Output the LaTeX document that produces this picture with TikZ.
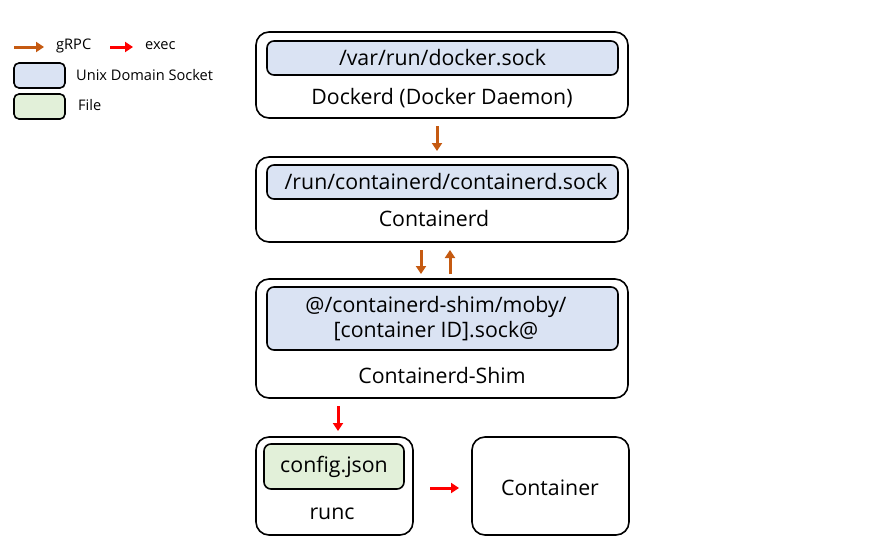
\documentclass[tikz,border=0pt]{standalone}
\usepackage{fontspec}
\setmainfont{Open Sans}
\usetikzlibrary{arrows.meta}
\definecolor{sockblue}{HTML}{DAE3F3}
\definecolor{filegreen}{HTML}{E2F0D9}
\definecolor{grpc}{HTML}{C55A11}
\definecolor{execred}{HTML}{FF0000}
\tikzset{
  outerbox/.style={draw=black, line width=1.6pt, rounded corners=13pt, fill=white},
  innerbox/.style={draw=black, line width=1.6pt, rounded corners=7pt},
  grpcarrow/.style={draw=grpc, line width=3pt, -{Triangle[length=8pt,width=10pt]}},
  execarrow/.style={draw=execred, line width=3pt, -{Triangle[length=8pt,width=10pt]}},
  big/.style={font=\fontsize{21.3}{25.5}\selectfont, inner sep=0pt},
  small/.style={font=\fontsize{14.6}{17}\selectfont, inner sep=0pt, anchor=west},
}
\begin{document}
\begin{tikzpicture}[x=1pt,y=-1pt]
\useasboundingbox (0,0) rectangle (881,544);
% legend
\coordinate (lg1) at (14,47); \coordinate (lg2) at (44,47);
\draw[grpcarrow] (lg1) -- (lg2);
\node[small] (lgrpc) at (56,46) {gRPC};
\coordinate (le1) at (110,47); \coordinate (le2) at (133,47);
\draw[execarrow] (le1) -- (le2);
\node[small] (lexec) at (145,46) {exec};
\node[innerbox, fill=sockblue, minimum width=51pt, minimum height=25pt, rounded corners=5pt] (lsock) at (39.5,75.5) {};
\node[small] (lsockt) at (76,75) {Unix Domain Socket};
\node[innerbox, fill=filegreen, minimum width=51pt, minimum height=25pt, rounded corners=5pt] (lfile) at (39.5,106.5) {};
\node[small] (lfilet) at (78,105) {File};
% Dockerd
\draw[outerbox] (256,32) rectangle (628,118);
\node[innerbox, fill=sockblue, minimum width=351pt, minimum height=34pt] (dsock) at (442.5,58) {};
\node[big] at (dsock) {/var/run/docker.sock};
\node[big] (dockerd) at (442,98) {Dockerd (Docker Daemon)};
% Containerd
\draw[outerbox] (256,157) rectangle (628,242);
\node[innerbox, fill=sockblue, minimum width=351pt, minimum height=34pt] (csock) at (442.5,182) {};
\node[big] at (446,182) {/run/containerd/containerd.sock};
\node[big] (containerd) at (434,219) {Containerd};
% Shim
\draw[outerbox] (256,279) rectangle (628,398);
\node[innerbox, fill=sockblue, minimum width=351pt, minimum height=63pt] (ssock) at (442.5,318.5) {};
\node[big, align=center] at (436,318.5) {@/containerd-shim/moby/\\{[container ID].sock@}};
\node[big] (shim) at (442,376) {Containerd-Shim};
% runc
\draw[outerbox] (256,437) rectangle (413,535);
\node[innerbox, fill=filegreen, minimum width=140pt, minimum height=45pt] (cfg) at (334,466.5) {};
\node[big] at (cfg) {config.json};
\node[big] (runc) at (332,514) {runc};
% Container
\node[outerbox, minimum width=157pt, minimum height=98pt] (cont) at (550.5,486) {};
\node[big] at (550,488) {Container};
% arrows
\coordinate (a1s) at (437,126); \coordinate (a1e) at (437,151);
\draw[grpcarrow] (a1s) -- (a1e);
\coordinate (a2s) at (421,250); \coordinate (a2e) at (421,274);
\draw[grpcarrow] (a2s) -- (a2e);
\coordinate (a3s) at (450,274); \coordinate (a3e) at (450,250);
\draw[grpcarrow] (a3s) -- (a3e);
\coordinate (a4s) at (338,406); \coordinate (a4e) at (338,431);
\draw[execarrow] (a4s) -- (a4e);
\coordinate (a5s) at (430,488); \coordinate (a5e) at (459,488);
\draw[execarrow] (a5s) -- (a5e);
\end{tikzpicture}
\end{document}
